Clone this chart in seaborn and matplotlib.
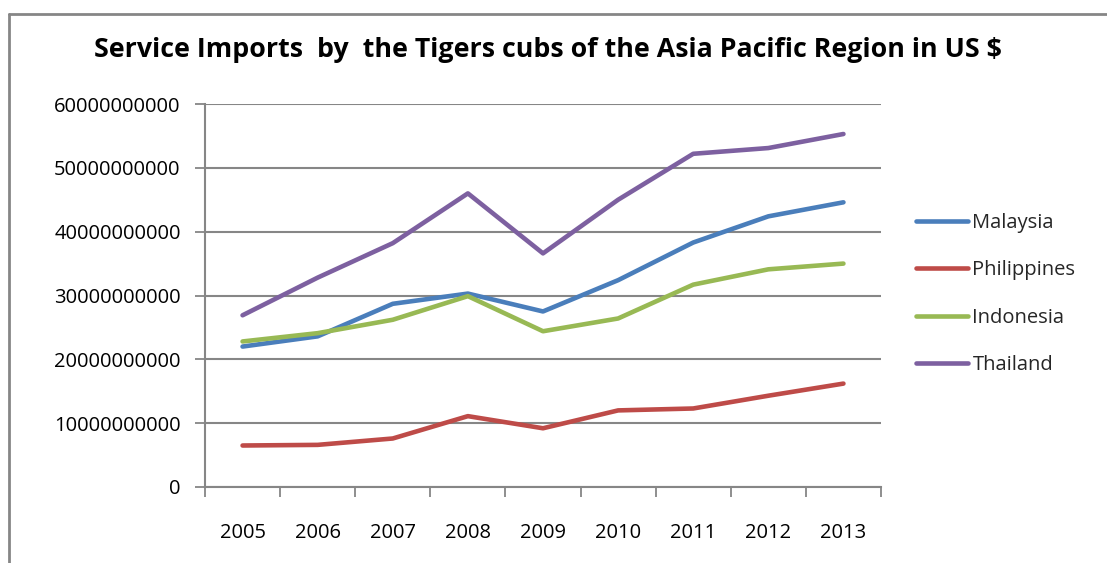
import matplotlib
matplotlib.use("Agg")
import matplotlib.pyplot as plt
from matplotlib.lines import Line2D
from matplotlib.ticker import FixedLocator, FuncFormatter
import seaborn as sns
import pandas as pd

years = ["2005", "2006", "2007", "2008", "2009", "2010", "2011", "2012", "2013"]
malaysia = [22.0e9, 23.6e9, 28.7e9, 30.3e9, 27.5e9, 32.4e9, 38.3e9, 42.4e9, 44.6e9]
philippines = [6.5e9, 6.6e9, 7.6e9, 11.1e9, 9.2e9, 12.0e9, 12.3e9, 14.3e9, 16.2e9]
indonesia = [22.8e9, 24.1e9, 26.2e9, 29.9e9, 24.4e9, 26.4e9, 31.7e9, 34.1e9, 35.0e9]
thailand = [26.9e9, 32.8e9, 38.2e9, 46.0e9, 36.6e9, 45.0e9, 52.2e9, 53.1e9, 55.3e9]

countries = ["Malaysia", "Philippines", "Indonesia", "Thailand"]
colors = ["#4A7EBB", "#BE4B48", "#98B954", "#7D60A0"]
title = "Service Imports  by  the Tigers cubs of the Asia Pacific Region in US $"

rows = []
for name, vals in zip(countries, [malaysia, philippines, indonesia, thailand]):
    for i, v in enumerate(vals):
        rows.append({"pos": i, "value": v, "country": name})
df = pd.DataFrame(rows)

sns.set_theme(style="white")
plt.rcParams["font.family"] = ["Open Sans", "DejaVu Sans"]

W, H = 1107, 563
fig = plt.figure(figsize=(W / 100, H / 100), dpi=100)
ax = fig.add_axes([205 / W, 1 - 487 / H, 676 / W, 383 / H])

LW = 3.3
sns.lineplot(data=df, x="pos", y="value", hue="country", hue_order=countries,
             palette=colors, linewidth=LW, ax=ax, legend=False,
             solid_capstyle="round", solid_joinstyle="round")

grid_c = "#868686"
ax.set_xlim(-0.5, len(years) - 0.5)
ax.set_ylim(0, 60e9)
ax.yaxis.set_major_locator(FixedLocator([i * 10e9 for i in range(7)]))
ax.yaxis.set_major_formatter(FuncFormatter(lambda v, p: f"{int(round(v))}"))
ax.grid(axis="y", color=grid_c, linewidth=1.5)
ax.set_axisbelow(True)

# boundary ticks on the category axis, labels centred on each category
ax.xaxis.set_major_locator(FixedLocator([i - 0.5 for i in range(len(years) + 1)]))
ax.xaxis.set_major_formatter(FuncFormatter(lambda v, p: ""))
ax.set_xticks(list(range(len(years))), labels=years, minor=True)
ax.tick_params(axis="x", which="major", direction="out", length=7, width=1.3,
               color=grid_c, bottom=True)
ax.tick_params(axis="x", which="minor", length=0, pad=26, labelsize=14.5,
               labelcolor="black", bottom=True)
ax.tick_params(axis="y", direction="out", length=7, width=1.3, color=grid_c,
               left=True, pad=10.5, labelsize=14.5, labelcolor="black")
ax.set_xlabel("")
ax.set_ylabel("")

for s in ["top", "right"]:
    ax.spines[s].set_visible(False)
for s in ["left", "bottom"]:
    ax.spines[s].set_color(grid_c)
    ax.spines[s].set_linewidth(1.5)

fig.text(548 / W, 1 - 50 / H, title, ha="center", va="center",
         fontsize=19.3, fontweight="bold", color="black")

# legend drawn as line handles beside the plot
handles = [Line2D([0], [0], color=c, lw=LW, solid_capstyle="round") for c in colors]
fig.legend(handles, countries, loc="upper left",
           bbox_to_anchor=(906 / W, 1 - 203 / H), frameon=False,
           fontsize=14.5, handlelength=2.6, handletextpad=0.2,
           labelspacing=1.36, borderpad=0)

# outer chart frame
fig.add_artist(Line2D([9 / W, 9 / W], [0, 1 - 14 / H], color="#868686", lw=2.0,
                      transform=fig.transFigure))
fig.add_artist(Line2D([9 / W, 1], [1 - 14 / H, 1 - 14 / H], color="#868686", lw=2.0,
                      transform=fig.transFigure))

fig.savefig("out.png", dpi=100)
